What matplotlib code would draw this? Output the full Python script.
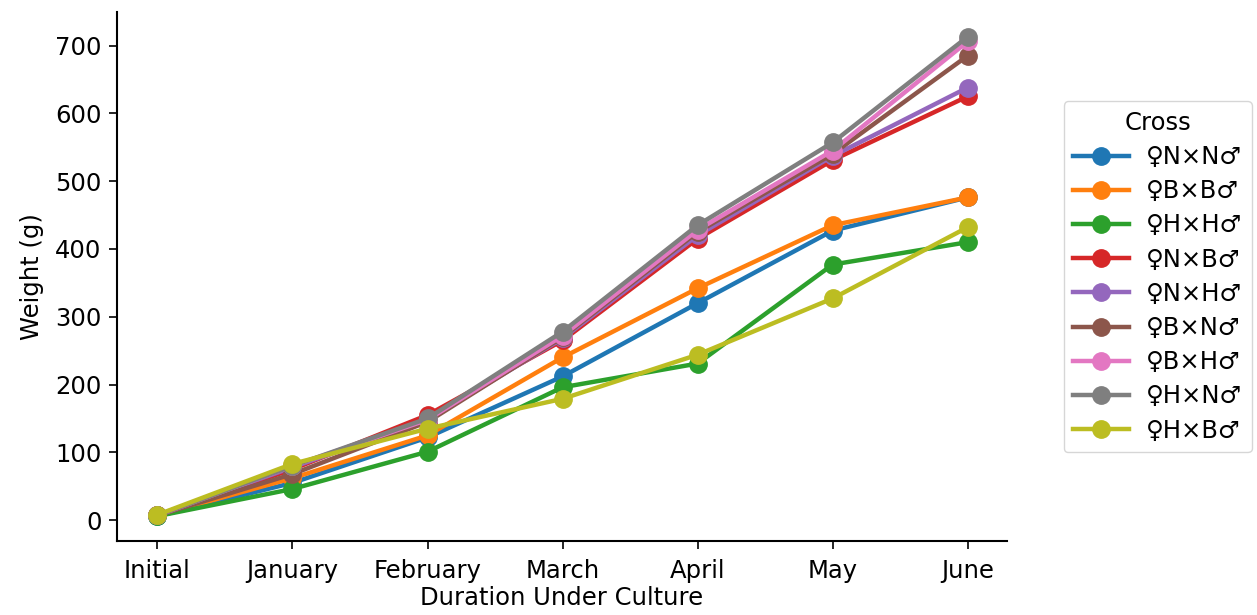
import matplotlib
matplotlib.use("Agg")
import matplotlib.pyplot as plt

months = ["Initial", "January", "February", "March", "April", "May", "June"]
crosses = ["♀N×N♂", "♀B×B♂", "♀H×H♂", "♀N×B♂", "♀N×H♂", "♀B×N♂", "♀B×H♂", "♀H×N♂", "♀H×B♂"]
colors = ["#1f77b4", "#ff7f0e", "#2ca02c", "#d62728", "#9467bd", "#8c564b", "#e377c2", "#7f7f7f", "#bcbd22"]

w_NxN = [6, 55, 122, 212, 320, 427, 476]
w_BxB = [7, 62, 125, 240, 342, 435, 476]
w_HxH = [6, 46, 101, 196, 231, 377, 410]
w_NxB = [7, 75, 155, 265, 415, 531, 625]
w_NxH = [7, 78, 148, 268, 420, 537, 638]
w_BxN = [7, 68, 145, 270, 425, 540, 685]
w_BxH = [7, 80, 148, 272, 428, 545, 706]
w_HxN = [7, 80, 150, 278, 435, 557, 713]
w_HxB = [8, 83, 135, 179, 244, 327, 432]
series = [w_NxN, w_BxB, w_HxH, w_NxB, w_NxH, w_BxN, w_BxH, w_HxN, w_HxB]

plt.rcParams['font.family'] = ['DejaVu Sans']
fig = plt.figure(figsize=(12.57, 6.15), dpi=100)
ax = fig.add_axes([0.093, 0.120, 0.708, 0.860])

x = list(range(len(months)))
for name, vals, c in zip(crosses, series, colors):
    ax.plot(x, vals, marker='o', color=c, linewidth=3.2, markersize=12.5, label=name)

ax.set_xticks(x)
ax.set_xticklabels(months, fontsize=17.5)
ax.set_xlim(-0.3, 6.29)
ax.set_ylim(-31, 749)
ax.set_yticks([0, 100, 200, 300, 400, 500, 600, 700])
ax.tick_params(axis='y', labelsize=17.5, length=6, width=1.2, pad=5)
ax.tick_params(axis='x', length=6, width=1.2, pad=7)
for s in ['top', 'right']:
    ax.spines[s].set_visible(False)
for s in ['left', 'bottom']:
    ax.spines[s].set_linewidth(1.5)
ax.set_xlabel("Duration Under Culture", fontsize=17.5, labelpad=2)
ax.set_ylabel("Weight (g)", fontsize=17.5, labelpad=8)

leg = ax.legend(title="Cross", loc='center left', bbox_to_anchor=(1.05, 0.50),
                fontsize=17.5, title_fontsize=17.5, handlelength=2.3, handletextpad=0.7,
                labelspacing=0.42, borderpad=0.4, frameon=True)
leg.get_frame().set_edgecolor('#cccccc')

fig.savefig("out.png", dpi=100)
